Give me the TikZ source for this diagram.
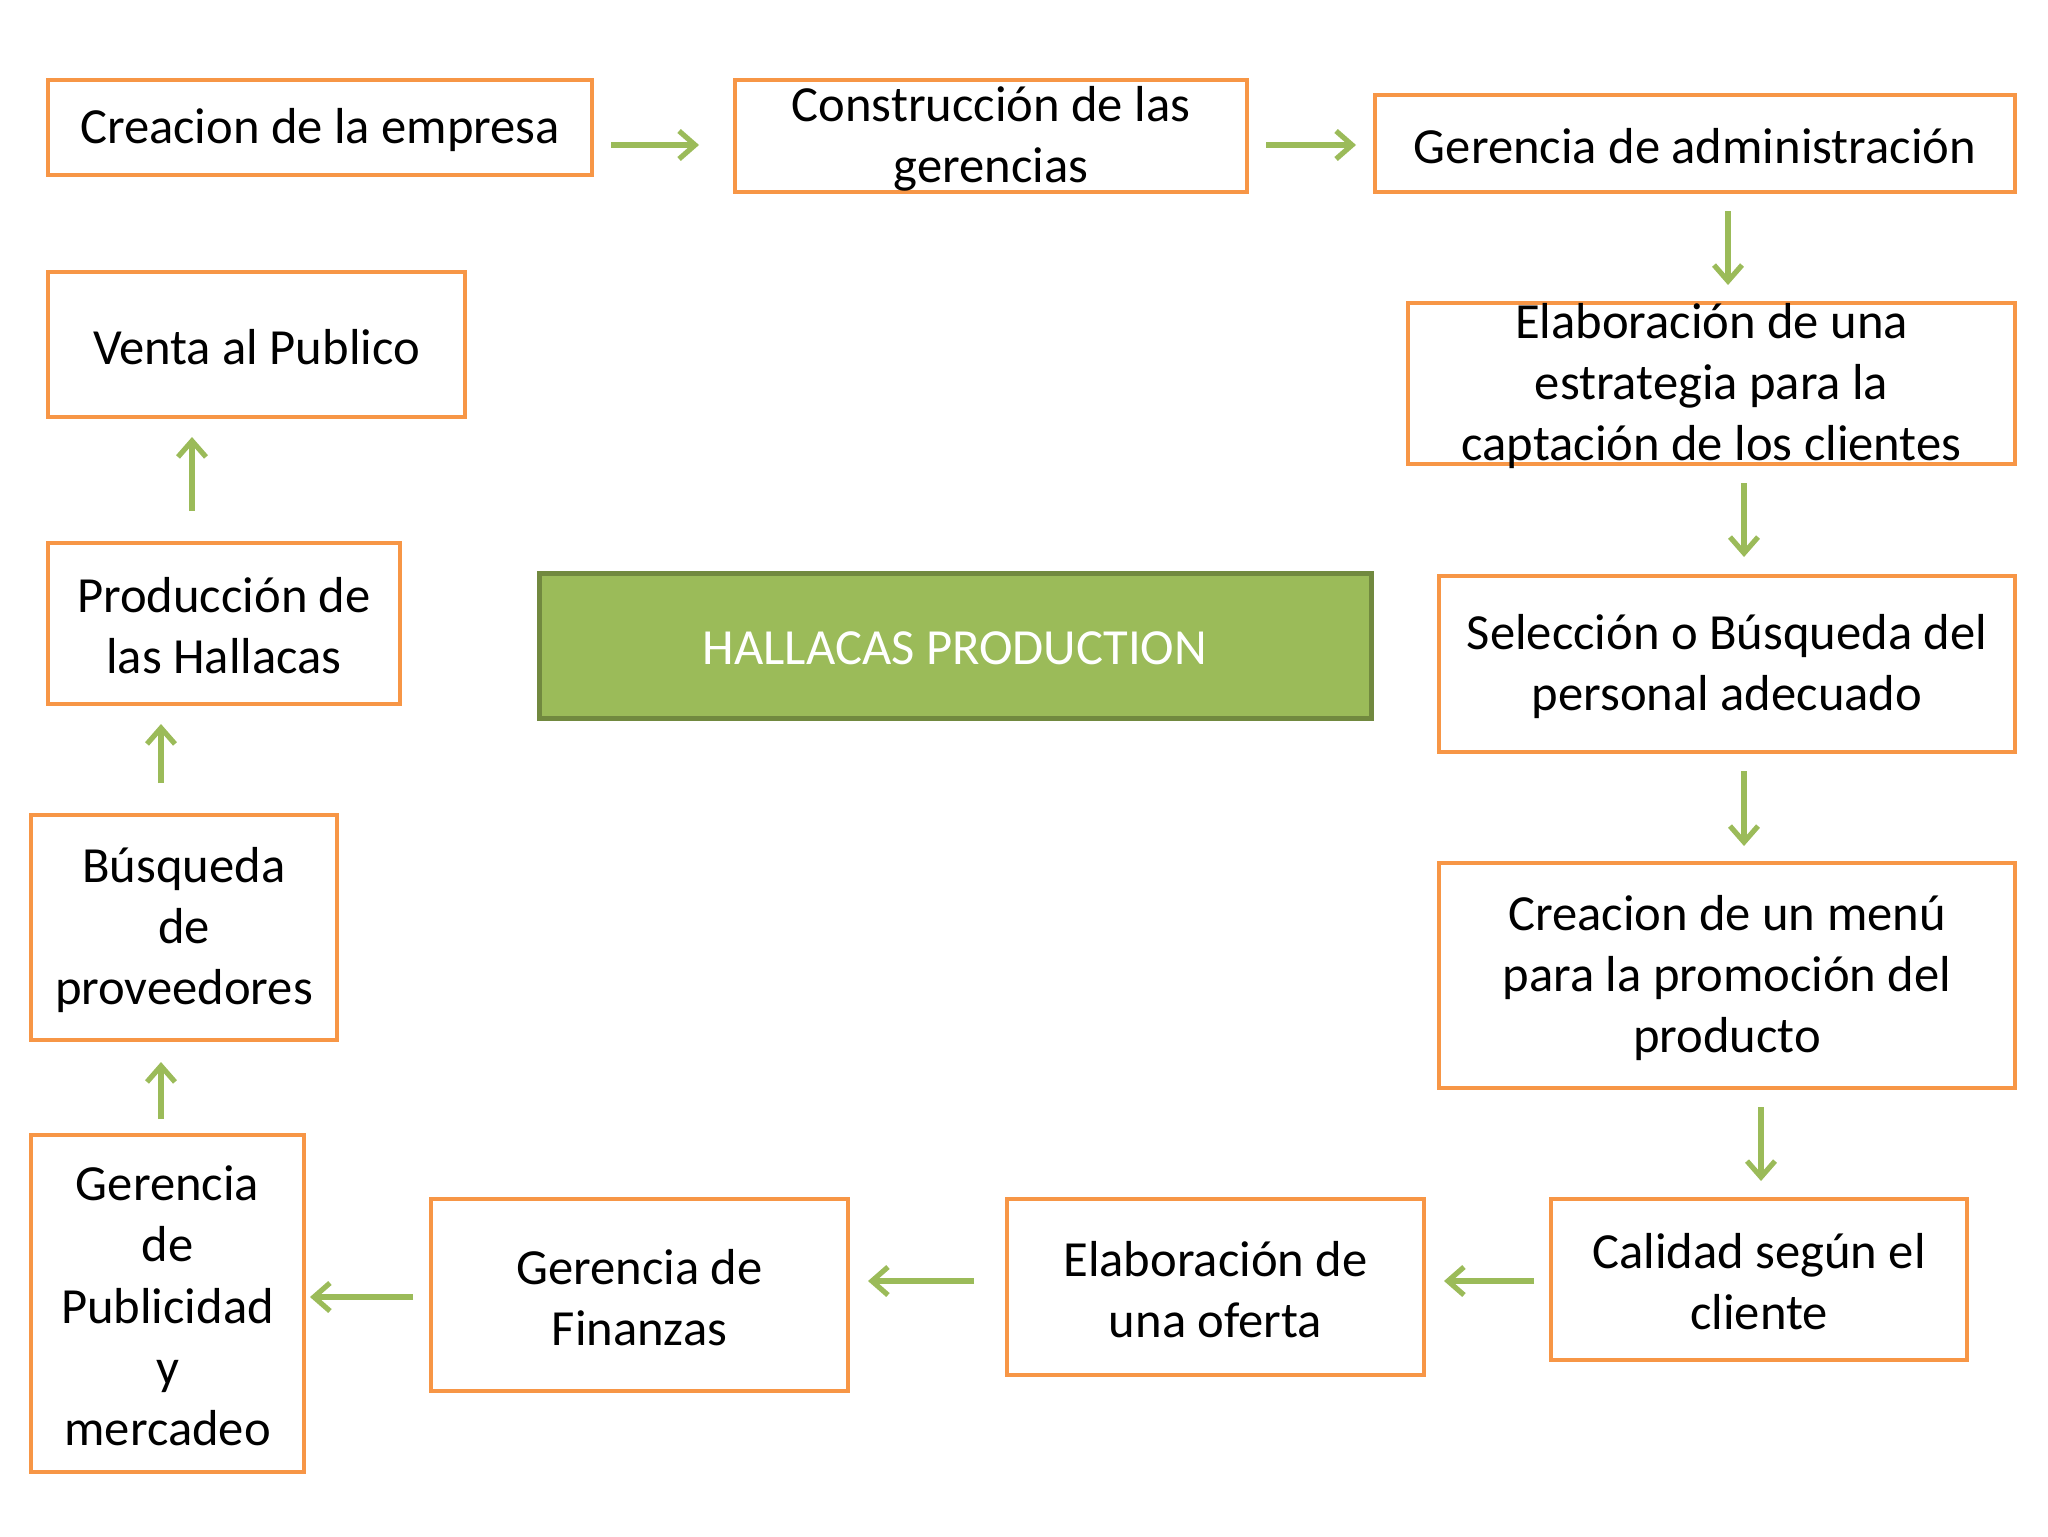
\documentclass[tikz,border=0pt]{standalone}
\usepackage{fontspec}
\setmainfont{Carlito}
\usetikzlibrary{arrows.meta,fit}
\definecolor{boxorange}{HTML}{F79646}
\definecolor{arrgreen}{HTML}{9BBB59}
\definecolor{fillgreen}{HTML}{9BBB59}
\definecolor{edgegreen}{HTML}{71893F}
\tikzset{
  box/.style={draw=boxorange, line width=2pt, inner sep=0pt, fill=white},
  mainbox/.style={draw=edgegreen, line width=2.5pt, inner sep=0pt, fill=fillgreen},
  txt/.style={align=center, inner sep=0pt, yshift=-1.2pt, font=\fontsize{25.3}{30.6}\selectfont},
  arr/.style={draw=arrgreen, line width=2.6pt, -{Straight Barb[length=8pt,width=14pt]}}
}
\begin{document}
\begin{tikzpicture}[x=0.5pt,y=-0.5pt]
\useasboundingbox (0,0) rectangle (2048,1536);
% boxes
\node[box, fit={(48,80) (592,175)}] (b1) {};
\node[box, fit={(735,80) (1247,192)}] (b2) {};
\node[box, fit={(1375,95) (2015,192)}] (b3) {};
\node[box, fit={(1408,303) (2015,464)}] (b4) {};
\node[box, fit={(1439,576) (2015,752)}] (b5) {};
\node[box, fit={(1439,863) (2015,1088)}] (b6) {};
\node[box, fit={(1551,1199) (1967,1360)}] (b7) {};
\node[box, fit={(1007,1199) (1424,1375)}] (b8) {};
\node[box, fit={(431,1199) (848,1391)}] (b9) {};
\node[box, fit={(31,1135) (304,1472)}] (b10) {};
\node[box, fit={(31,815) (337,1040)}] (b11) {};
\node[box, fit={(48,543) (400,704)}] (b12) {};
\node[box, fit={(48,272) (465,417)}] (b13) {};
\node[mainbox, fit={(539,573) (1371,718)}] (m) {};
% texts
\node[txt] (t1) at (b1.center) {Creacion de la empresa};
\node[txt] (t2) at (b2.center) {Construcción de las\\gerencias};
\node[txt] (t3) at (b3.center) {Gerencia de administración};
\node[txt] (t4) at (b4.center) {Elaboración de una\\estrategia para la\\captación de los clientes};
\node[txt] (t5) at (b5.center) {Selección o Búsqueda del\\personal adecuado};
\node[txt] (t6) at (b6.center) {Creacion de un menú\\para la promoción del\\producto};
\node[txt] (t7) at (b7.center) {Calidad según el\\cliente};
\node[txt] (t8) at (b8.center) {Elaboración de\\una oferta};
\node[txt] (t9) at (b9.center) {Gerencia de\\Finanzas};
\node[txt] (t10) at (b10.center) {Gerencia\\de\\Publicidad\\y\\mercadeo};
\node[txt] (t11) at (b11.center) {Búsqueda\\de\\proveedores};
\node[txt] (t12) at (b12.center) {Producción de\\las Hallacas};
\node[txt] (t13) at (b13.center) {Venta al Publico};
\node[txt, text=white] (tm) at (m.center) {HALLACAS PRODUCTION};
% arrows
\draw[arr, shorten <=8.5pt, shorten >=17pt] (b1.east |- 0,145) -- (b2.west |- 0,145);
\draw[arr, shorten <=8.5pt, shorten >=8.5pt] (b2.east |- 0,145) -- (b3.west |- 0,145);
\draw[arr, shorten <=8.5pt, shorten >=8pt] (b3.south -| 1728,0) -- (b4.north -| 1728,0);
\draw[arr, shorten <=8.5pt, shorten >=8.5pt] (b4.south -| 1744,0) -- (b5.north -| 1744,0);
\draw[arr, shorten <=8.5pt, shorten >=7.5pt] (b5.south -| 1744,0) -- (b6.north -| 1744,0);
\draw[arr, shorten <=8.5pt, shorten >=8pt] (b6.south -| 1761,0) -- (b7.north -| 1761,0);
\draw[arr, shorten <=7.5pt, shorten >=9pt] (b7.west |- 0,1281) -- (b8.east |- 0,1281);
\draw[arr, shorten <=15.5pt, shorten >=9pt] (b8.west |- 0,1281) -- (b9.east |- 0,1281);
\draw[arr, shorten <=8pt, shorten >=2pt] (b9.west |- 0,1297) -- (b10.east |- 0,1297);
\draw[arr, shorten <=7pt, shorten >=10pt] (b10.north -| 161,0) -- (b11.south -| 161,0);
\draw[arr, shorten <=15pt, shorten >=9pt] (b11.north -| 161,0) -- (b12.south -| 161,0);
\draw[arr, shorten <=15pt, shorten >=9pt] (b12.north -| 192,0) -- (b13.south -| 192,0);
\end{tikzpicture}
\end{document}
